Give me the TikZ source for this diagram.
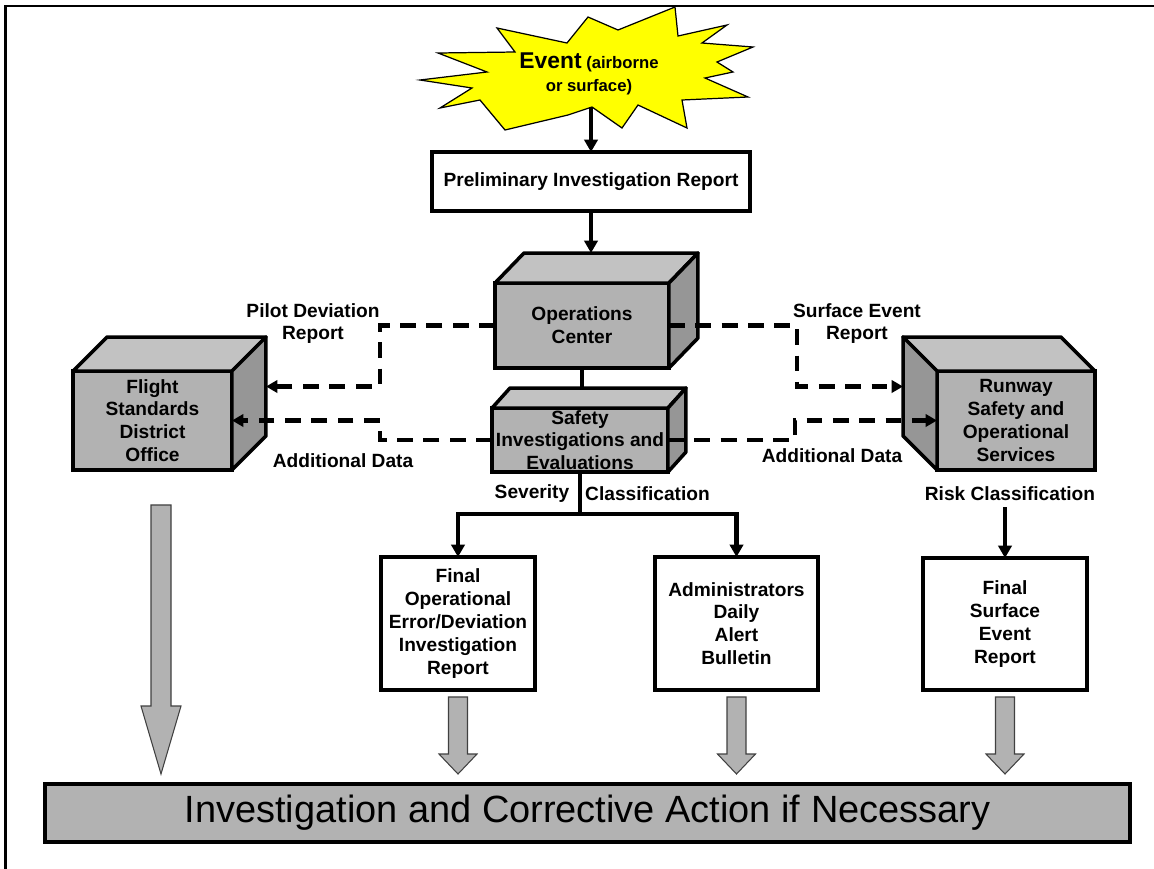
\documentclass[tikz,border=0pt]{standalone}
\usepackage{fontspec}
\setmainfont{Liberation Sans}
\usetikzlibrary{positioning,calc,arrows.meta}

\definecolor{boxfront}{RGB}{178,178,178}
\definecolor{boxtop}{RGB}{194,194,194}
\definecolor{boxside}{RGB}{150,150,150}
\definecolor{burst}{RGB}{255,255,0}

\newcommand\lblfont{\bfseries\fontsize{10.9pt}{13pt}\selectfont}

\tikzstyle{line}=[draw, line width=2pt]
\tikzstyle{arrow}=[line, -{Triangle[length=7pt,width=7.5pt]}]
\tikzstyle{dasharrow}=[draw, line width=2.6pt, dash pattern=on 9pt off 6pt, -{Triangle[length=6.5pt,width=7pt]}]
\tikzstyle{report}=[draw, line width=2pt, fill=white, align=center, inner sep=0pt, outer sep=0pt, font=\lblfont]
\tikzstyle{cubefront}=[report, fill=boxfront]
\tikzstyle{topface}=[draw, line width=2pt, fill=boxtop, line join=round]
\tikzstyle{sideface}=[draw, line width=2pt, fill=boxside, line join=round]
\tikzstyle{lbl}=[align=center, font=\lblfont]
\tikzstyle{fat}=[draw=black!75, line width=0.6pt, fill=boxfront]

% top and side of a box: node, near side, far side, depth
\newcommand\boxfaces[4]{
    \path[topface] (#1.north #3) -- ++#4 -- ($(#1.north #2)+#4$) -- (#1.north #2) -- cycle;
    \path[sideface] (#1.north #2) -- ++#4 -- ($(#1.south #2)+#4$) -- (#1.south #2) -- cycle;
}
% grey block arrow: top, tip, half shaft width, head length
\newcommand\fatarrow[4]{
    \path[fat] ($#1+(-#3,0)$) -- ($#1+(#3,0)$) -- ($#2+(#3,-#4)$) -- ($#2+(2*#3,-#4)$) -- #2
        -- ($#2+(-2*#3,-#4)$) -- ($#2+(-#3,-#4)$) -- cycle;
}

\begin{document}
\begin{tikzpicture}[x=0.02cm, y=-0.02cm]
    \useasboundingbox (0,0) rectangle (1154,869);
    \draw[line width=1.2pt] (5.5,869) -- (5.5,6) -- (1154,6);

    \path[draw, fill=burst, line width=0.7pt] (420,80) -- (487,72) -- (438,53) -- (515,52) -- (497,28) -- (567,43)
        -- (588,17) -- (618,30) -- (675,7) -- (678,36) -- (727,25) -- (702,43) -- (753,47) -- (717,62)
        -- (733,72) -- (705,78) -- (748,97) -- (682,100) -- (687,128) -- (638,105) -- (622,128) -- (592,107)
        -- (568,115) -- (505,130) -- (480,100) -- (440,108) -- (472,88) -- cycle;
    \node[align=center, font=\bfseries\fontsize{9.5pt}{13pt}\selectfont] (event) at (589,74) {{\fontsize{13pt}{13pt}\selectfont Event} (airborne\\or surface)};
    \coordinate (evbot) at (591,107);

    \node[report, minimum width=6.36cm, minimum height=1.18cm] (prelim) at (591,181.5) {Preliminary Investigation Report};
    \path[arrow] (evbot) -- (prelim.north);

    \node[cubefront, minimum width=3.48cm, minimum height=1.70cm] (ops) at (582,325.5) {Operations\\Center};
    \boxfaces{ops}{east}{west}{(29,-30)}
    \coordinate (opstop) at ($(ops.north)+(0,-30)$);
    \path[arrow] (prelim.south) -- (prelim.south |- opstop);

    \node[cubefront, minimum width=3.52cm, minimum height=1.28cm] (sie) at (580,440) {Safety\\Investigations and\\Evaluations};
    \boxfaces{sie}{east}{west}{(18,-20)}
    \coordinate (sietop) at ($(sie.north)+(0,-20)$);
    \path[line] (ops.south) -- (ops.south |- sietop);

    \node[cubefront, minimum width=3.18cm, minimum height=1.98cm] (fsdo) at (152.5,420.5) {Flight\\Standards\\District\\Office};
    \boxfaces{fsdo}{east}{west}{(34,-34)}
    \node[cubefront, minimum width=3.16cm, minimum height=1.98cm] (rsos) at (1016,420.5) {Runway\\Safety and\\Operational\\Services};
    \boxfaces{rsos}{west}{east}{(-34,-34)}

    \path[dasharrow] (ops.west) -- ++(-115,0) |- ($(fsdo.east)+(34,-34)$);
    \path[dasharrow] (sie.west) -- ++(-112,0) |- (fsdo.east);
    \path[dasharrow] (ops.east) -- ++(128,0) |- ($(rsos.west)+(-34,-34)$);
    \path[dasharrow] (sie.east) -- ++(127,0) |- (rsos.west);
    \node[lbl] (pdr) at (313,323.5) {Pilot Deviation\\Report};
    \node[lbl] (adl) at (343,461) {Additional Data};
    \node[lbl] (ser) at (857,323.5) {Surface Event\\Report};
    \node[lbl] (adr) at (832,456) {Additional Data};

    \coordinate (split) at ($(sie.south)+(0,42)$);
    \path[line, line width=2.5pt] (sie.south) -- (split);
    \node[lbl] (sev) at (532,494) {Severity};
    \node[lbl] (cls) at (647.5,494) {Classification};

    \node[report, minimum width=3.08cm, minimum height=2.66cm] (foe) at (458,623.5) {Final\\Operational\\Error/Deviation\\Investigation\\Report};
    \node[report, minimum width=3.26cm, minimum height=2.66cm] (alert) at (736.5,623.5) {Administrators\\Daily\\Alert\\Bulletin};
    \node[report, minimum width=3.28cm, minimum height=2.64cm] (fser) at (1005,624) {Final\\Surface\\Event\\Report};
    \path[arrow, line width=2.5pt] (split) -| (foe.north);
    \path[arrow, line width=2.5pt] (split) -| (alert.north);
    \node[lbl] (risk) at (1010,494) {Risk Classification};
    \path[arrow] (risk.south -| fser.north) -- (fser.north);

    \node[report, fill=boxfront, minimum width=21.7cm, minimum height=1.16cm, font=\fontsize{21.6pt}{26pt}\selectfont] (act) at (587.5,813) {Investigation and Corrective Action if Necessary};

    \coordinate (f1) at ($(fsdo.south)+(8.5,35)$);
    \coordinate (f2) at ($(foe.south)+(0,7)$);
    \coordinate (f3) at ($(alert.south)+(0,7)$);
    \coordinate (f4) at ($(fser.south)+(0,7)$);
    \foreach \n in {1,...,4} \coordinate (t\n) at ($(f\n |- act.north)+(0,-10)$);
    \fatarrow{(f1)}{(t1)}{10}{68}
    \foreach \n in {2,3,4} {\fatarrow{(f\n)}{(t\n)}{9.5}{20}}
\end{tikzpicture}
\end{document}
